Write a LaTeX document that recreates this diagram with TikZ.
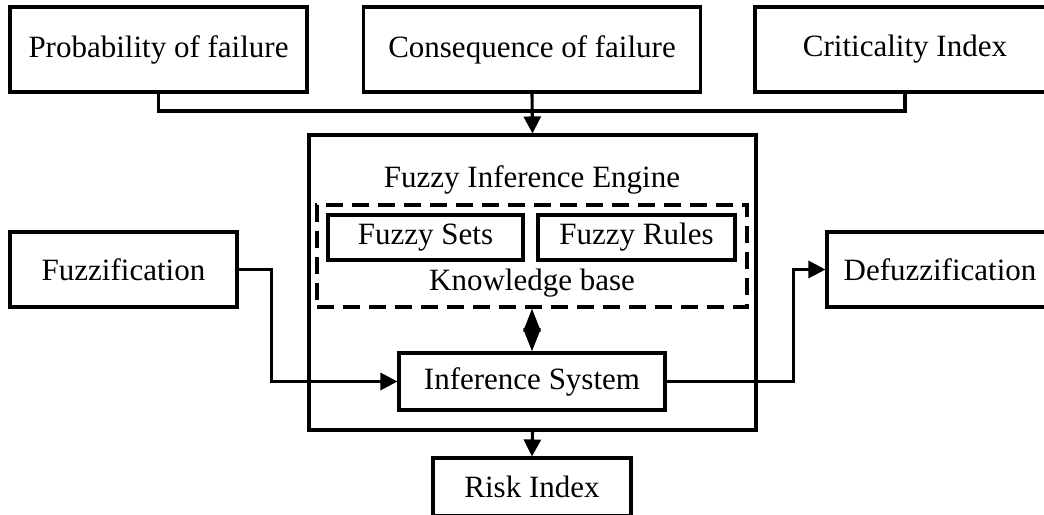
\documentclass[tikz,border=0pt]{standalone}
\usepackage{fontspec}
\setmainfont{Liberation Serif}
\usetikzlibrary{arrows.meta,calc}
\begin{document}
\begin{tikzpicture}[x=1pt,y=-1pt,
  every node/.style={font=\fontsize{31}{36}\selectfont, inner sep=0pt},
  box/.style={draw, line width=3.1pt, rectangle},
  dbox/.style={draw, line width=3.1pt, rectangle, dash pattern=on 17pt off 9pt},
  wire/.style={line width=3.1pt},
  arr/.style={wire, -{Triangle[length=17pt,width=17pt]}},
  darr/.style={wire, {Triangle[length=23pt,width=17pt]}-{Triangle[length=23pt,width=17pt]}}
]
\clip (0,0) rectangle (1044,514);
\fill[white] (0,0) rectangle (1044,514);

% inputs
\node[box, minimum width=297pt, minimum height=85pt] (prob) at (158.5,49.5) {Probability of failure};
\node[box, minimum width=337pt, minimum height=85pt] (cons) at (532,49.5) {Consequence of failure};
\node[box, minimum width=300pt, minimum height=85pt] (crit) at (905,49.5) {Criticality Index};

% fuzzy inference engine
\node[box, minimum width=447pt, minimum height=295pt] (fie) at (532.5,282.5) {};
\node (fietitle) at (532,180) {Fuzzy Inference Engine};
\node[dbox, minimum width=430pt, minimum height=102pt] (kb) at (532,256) {};
\node[box, minimum width=195pt, minimum height=45pt] (sets) at (425.5,237.5) {Fuzzy Sets};
\node[box, minimum width=197pt, minimum height=45pt] (rules) at (636.5,237.5) {Fuzzy Rules};
\node (kblabel) at (532,283) {Knowledge base};
\node[box, minimum width=266pt, minimum height=57pt] (inf) at (532,381.5) {Inference System};

% side blocks and output
\node[box, minimum width=227pt, minimum height=75pt] (fuzz) at (123.5,269.5) {Fuzzification};
\node[box, minimum width=226pt, minimum height=75pt] (defuzz) at (940,269.5) {Defuzzification};
\node[box, minimum width=198pt, minimum height=58pt] (risk) at (532,487) {Risk Index};

% connectors
\coordinate (bus) at (532,111);
\draw[wire] (prob.south) |- (bus) -| (crit.south);
\draw[arr] (cons.south) -- (fie.north);
\draw[darr] (kb.south) -- (inf.north);
\draw[arr] (fuzz.east) -- ++(33,0) |- (inf.west);
\draw[arr] (inf.east) -- ++(127,0) |- (defuzz.west);
\draw[arr] (fie.south) -- (risk.north);
\end{tikzpicture}
\end{document}
